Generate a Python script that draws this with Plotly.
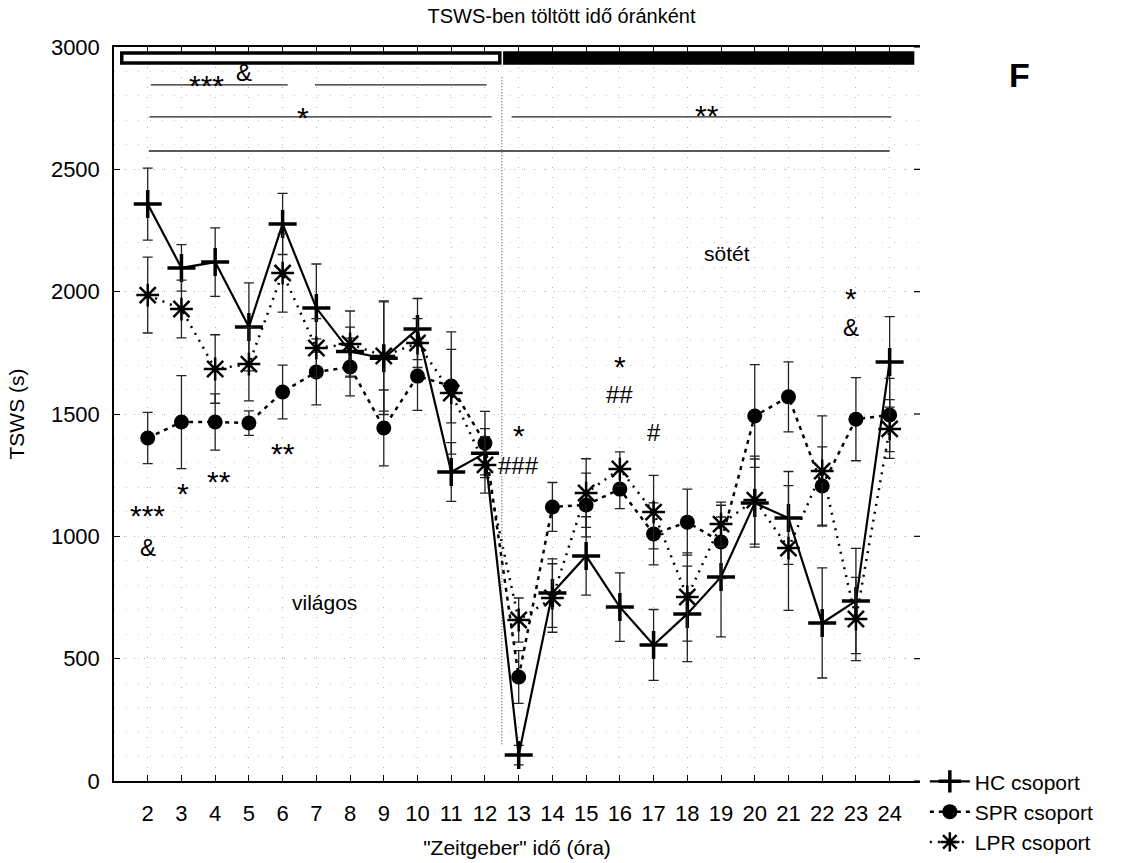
import plotly.graph_objects as go

# ---------------- data ----------------
hours = list(range(2, 25))

hc_mean = [2358, 2097, 2121, 1856, 2277, 1933, 1755, 1728, 1847, 1263, 1340,
           106, 768, 920, 711, 556, 683, 834, 1136, 1075, 646, 736, 1713]
hc_err = [147, 95, 140, 180, 125, 180, 100, 230, 125, 120, 100,
          40, 140, 160, 140, 145, 195, 245, 180, 190, 225, 215, 185]

spr_mean = [1402, 1467, 1467, 1463, 1590, 1672, 1692, 1443, 1655, 1614, 1381,
            425, 1120, 1128, 1193, 1010, 1058, 977, 1492, 1570, 1206, 1479, 1496]
spr_err = [105, 190, 115, 50, 110, 135, 118, 155, 140, 150, 130,
           108, 100, 130, 80, 127, 135, 150, 210, 143, 160, 170, 150]

lpr_mean = [1986, 1929, 1684, 1704, 2076, 1770, 1786, 1737, 1790, 1586, 1292,
            658, 748, 1177, 1275, 1099, 752, 1050, 1148, 952, 1267, 662, 1439]
lpr_err = [155, 118, 140, 150, 160, 120, 135, 225, 100, 250, 115,
           90, 140, 140, 70, 150, 180, 90, 180, 255, 225, 170, 120]

series_names = ["HC csoport", "SPR csoport", "LPR csoport"]

y_ticks = [0, 500, 1000, 1500, 2000, 2500, 3000]

# significance bars (x0, x1, y)
sig_lines = [(2.09, 6.15, 2845), (6.96, 12.05, 2845),
             (2.05, 12.2, 2714), (12.79, 24.05, 2714),
             (2.03, 24.0, 2575)]

# annotation texts (x, y, text)
sig_texts = [(3.75, 2885, "***"), (4.85, 2895, "&"),
             (6.6, 2751, "*"), (18.57, 2759, "**"),
             (2.0, 1124, "***"), (2.0, 956, "&"),
             (3.05, 1218, "*"), (4.11, 1263, "**"), (6.0, 1381, "**"),
             (13.0, 1455, "*"), (13.0, 1291, "###"),
             (16.0, 1737, "*"), (16.0, 1578, "##"),
             (17.0, 1426, "#"),
             (22.85, 2015, "*"), (22.85, 1852, "&")]
phase_texts = [(7.23, 731, "világos"), (19.17, 2154, "sötét")]

FONT = "Liberation Sans, Arial, sans-serif"

fig = go.Figure()

err_style = dict(type="data", visible=True, thickness=1.3, width=5, color="#222")

fig.add_trace(go.Scatter(
    x=hours, y=hc_mean, name=series_names[0], mode="lines+markers",
    line=dict(color="black", width=2.2),
    marker=dict(symbol="cross-thin", size=20, line=dict(color="black", width=3.5)),
    error_y=dict(array=hc_err, **err_style)))
fig.add_trace(go.Scatter(
    x=hours, y=spr_mean, name=series_names[1], mode="lines+markers",
    line=dict(color="black", width=2.5, dash="4px,5px"),
    marker=dict(symbol="circle", size=15, color="black"),
    error_y=dict(array=spr_err, **err_style)))
fig.add_trace(go.Scatter(
    x=hours, y=lpr_mean, name=series_names[2], mode="lines+markers",
    line=dict(color="black", width=2.5, dash="2px,6px"),
    marker=dict(symbol="asterisk", size=19, line=dict(color="black", width=2.5)),
    error_y=dict(array=lpr_err, **err_style)))

shapes = []
# light / dark bars
shapes.append(dict(type="rect", xref="x", yref="y", x0=1.23, x1=12.44, y0=2935, y1=2975,
                   fillcolor="white", line=dict(color="black", width=3.5), layer="above"))
shapes.append(dict(type="rect", xref="x", yref="y", x0=12.59, x1=24.68, y0=2935, y1=2975,
                   fillcolor="black", line=dict(color="black", width=3.5), layer="above"))
for x0, x1, yv in sig_lines:
    shapes.append(dict(type="line", xref="x", yref="y", x0=x0, x1=x1, y0=yv, y1=yv,
                       line=dict(color="#222", width=1.3)))
# light/dark divider
shapes.append(dict(type="line", xref="x", yref="y", x0=12.5, x1=12.5, y0=150, y1=2880,
                   line=dict(color="#555", width=1.2, dash="1px,2px")))
# inward ticks on the right edge (no axis line there)
for tv in y_ticks:
    shapes.append(dict(type="line", xref="paper", yref="y", x0=0.9925, x1=1.0, y0=tv, y1=tv,
                       line=dict(color="black", width=1.2)))

annotations = []
for xv, yv, t in sig_texts:
    star = t.startswith("*")
    annotations.append(dict(x=xv, y=yv, xref="x", yref="y", text=t, showarrow=False,
                            font=dict(family=FONT, size=30 if star else 24, color="black"),
                            yshift=-10 if star else 0))
for xv, yv, t in phase_texts:
    annotations.append(dict(x=xv, y=yv, xref="x", yref="y", text=t, showarrow=False,
                            font=dict(family=FONT, size=21, color="black")))
annotations.append(dict(x=1.139, y=0.99, xref="paper", yref="paper", text="<b>F</b>",
                        showarrow=False, font=dict(family=FONT, size=34, color="black")))

fig.update_layout(
    width=1123, height=863,
    margin=dict(l=114, r=203, t=47, b=82, autoexpand=False),
    paper_bgcolor="white", plot_bgcolor="white",
    font=dict(family=FONT, color="black"),
    title=dict(text="TSWS-ben töltött idő óránként", x=0.5, xref="container",
               y=0.99, yanchor="top", font=dict(family=FONT, size=20, color="black")),
    xaxis=dict(range=[1, 24.9], tickvals=hours, ticks="inside", ticklen=6,
               tickcolor="black", showline=True, linecolor="black", linewidth=1.5,
               mirror="ticks", showgrid=True, gridcolor="#b0b0b0", griddash="1px,9px",
               gridwidth=1, zeroline=False, tickfont=dict(size=22),
               ticklabelstandoff=12,
               title=dict(text='"Zeitgeber" idő (óra)', font=dict(size=21), standoff=15)),
    yaxis=dict(range=[0, 3000], tickvals=y_ticks,
               ticks="inside", ticklen=6, tickcolor="black", showline=True,
               linecolor="black", linewidth=1.5, showgrid=True, gridcolor="#b0b0b0",
               griddash="1px,9px", zeroline=False, tickfont=dict(size=22),
               ticklabelstandoff=8,
               minor=dict(dtick=100, showgrid=True, gridcolor="#c8c8c8", griddash="1px,11px"),
               title=dict(text="TSWS (s)", font=dict(size=21), standoff=21)),
    legend=dict(x=1.006, y=0.027, xanchor="left", yanchor="top",
                font=dict(family=FONT, size=21, color="black"),
                bgcolor="rgba(0,0,0,0)", tracegroupgap=0, itemwidth=40),
    shapes=shapes, annotations=annotations,
    showlegend=True,
)

fig.write_html("out.html")
